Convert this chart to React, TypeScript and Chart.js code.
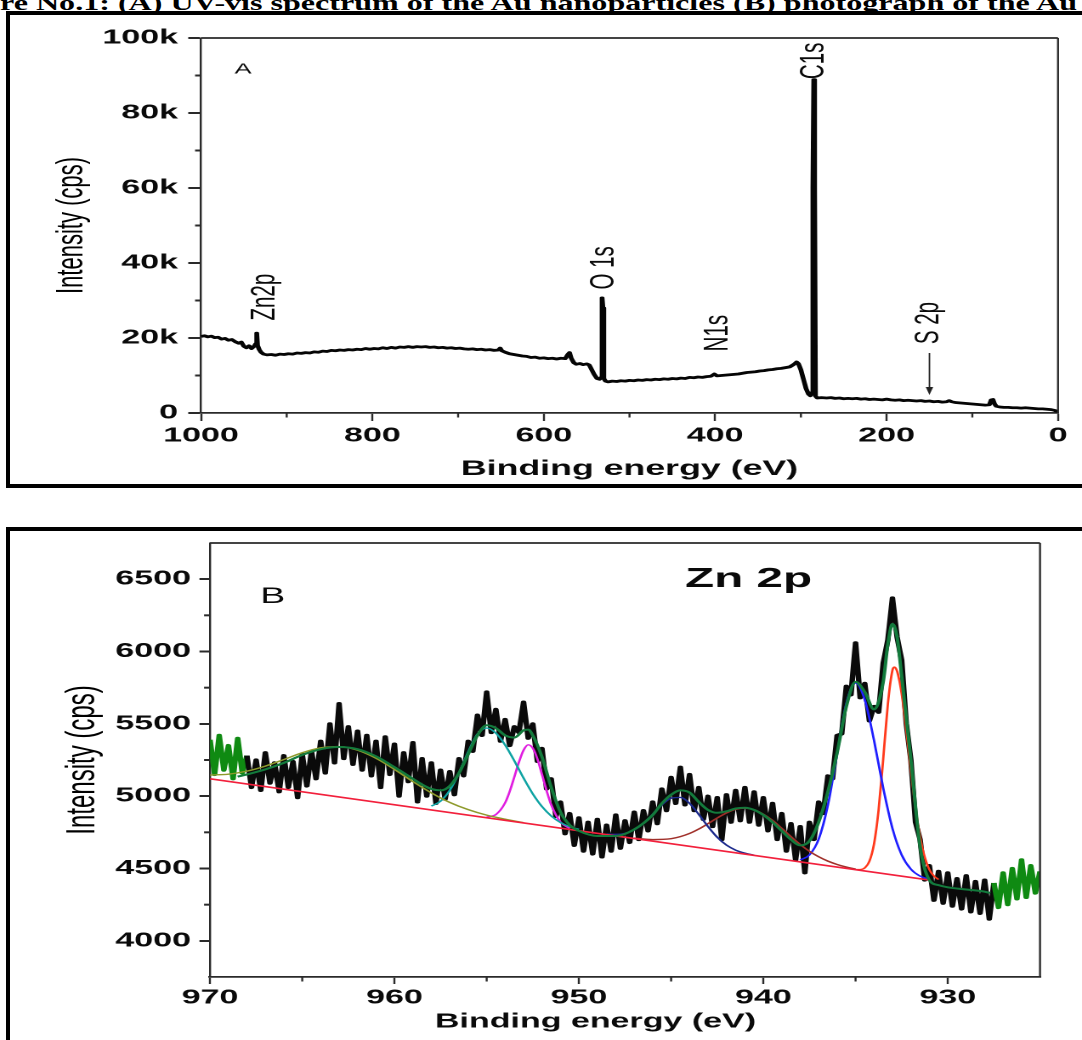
import React, { useEffect, useLayoutEffect, useRef } from 'react';
import { Chart, registerables } from 'chart.js';
Chart.register(...registerables);

const STRETCH = 1.7;
const FONT = '"Liberation Sans", Arial, Helvetica, sans-serif';
const TITLE_TEXT = 're No.1: (A) UV-vis spectrum of the Au nanoparticles (B) photograph of the Au';
const TITLE_WIDTH = 1077;

// ---------- Panel A : survey spectrum (intensity in k cps) ----------
const A_BE = [1000,996,992,988,984,980,976,972,968,964,960,956,953,950,947,944,941,938,936,935,934,932,930,927,923,918,913,908,903,898,893,888,883,878,873,868,863,858,853,848,843,838,833,828,823,818,813,808,803,798,793,788,783,778,773,768,763,758,753,748,743,738,733,728,723,718,713,708,703,698,693,688,683,678,673,668,663,658,653,651,649,645,640,635,630,625,620,615,610,605,600,595,590,585,580,575,572,570,568,565,562,558,554,550,547,544,541,538,535,533,532,531,530,528,525,520,515,510,505,500,495,490,485,480,475,470,465,460,455,450,445,440,435,430,425,420,415,410,405,401,398,393,388,383,378,373,368,363,358,353,348,343,338,333,328,323,318,313,308,305,303,300,297,294,291,289,287,286,285,284,283,281,276,270,265,260,255,250,245,240,235,230,225,220,215,210,205,200,195,190,185,180,175,170,165,160,155,150,145,140,135,130,127,124,120,115,110,105,100,95,90,85,80,78,76,74,72,68,63,58,53,48,43,38,33,28,23,18,13,8,4,2,0];
const A_INTENSITY = [20.4,20.6,20.3,20.5,20.1,20.2,19.7,19.9,19.4,19.6,19.0,18.6,18.9,17.8,17.4,17.9,17.2,17.8,18.5,21.3,18.0,16.9,16.2,15.7,15.5,15.6,15.4,15.7,15.6,15.8,15.7,16.0,15.9,16.1,16.0,16.3,16.2,16.5,16.4,16.7,16.6,16.8,16.7,16.9,16.8,17.0,16.9,17.2,17.0,17.2,17.1,17.4,17.2,17.5,17.3,17.6,17.5,17.7,17.5,17.7,17.6,17.7,17.5,17.6,17.4,17.5,17.3,17.4,17.2,17.3,17.1,17.0,17.1,16.9,17.0,16.8,16.9,16.7,16.8,17.3,16.6,16.2,15.8,15.6,15.4,15.2,15.1,14.8,14.9,14.6,14.7,14.5,14.6,14.4,14.6,14.5,15.6,16.1,14.6,13.4,13.0,13.2,12.9,13.1,12.8,11.5,10.2,9.2,9.0,9.5,30.7,28.0,9.2,8.5,8.3,8.5,8.4,8.6,8.5,8.7,8.6,8.8,8.7,8.9,8.8,9.0,8.9,9.1,9.0,9.2,9.1,9.3,9.2,9.5,9.4,9.6,9.5,9.7,9.8,10.4,9.9,10.0,10.1,10.2,10.3,10.4,10.6,10.8,10.9,11.0,11.2,11.3,11.5,11.6,11.8,11.9,12.1,12.3,13.0,13.6,13.2,11.5,9.0,6.5,5.0,4.6,5.5,60,88.9,60,4.5,4.0,4.1,4.0,4.1,3.9,4.0,3.8,3.9,3.8,3.9,3.7,3.8,3.6,3.7,3.6,3.5,3.7,3.5,3.4,3.5,3.3,3.4,3.3,3.2,3.3,3.1,3.2,3.0,3.1,2.9,3.0,3.3,3.0,2.8,2.7,2.6,2.5,2.4,2.3,2.2,2.1,2.2,3.5,3.6,2.4,1.8,1.6,1.5,1.5,1.4,1.4,1.3,1.4,1.3,1.2,1.1,1.1,1.0,0.9,0.7,0.5,0.4];
const A_X_TICKS = [0, 200, 400, 600, 800, 1000];
const A_Y_TICKS = [0, 20, 40, 60, 80, 100];
const A_X_MINOR = [100, 300, 500, 700, 900];
const A_Y_MINOR = [10, 30, 50, 70, 90];
const A_LABELS = [
  { text: 'A', x: 951, y: 91.7, size: 15, weight: 'normal', rot: 0 },
  { text: 'Zn2p', x: 925, y: 30.9, size: 20.5, weight: 'normal', rot: -90 },
  { text: 'O 1s', x: 530, y: 38.7, size: 20.5, weight: 'normal', rot: -90 },
  { text: 'C1s', x: 284.7, y: 93.9, size: 20.5, weight: 'normal', rot: -90 },
  { text: 'N1s', x: 397, y: 21.3, size: 20.5, weight: 'normal', rot: -90 },
  { text: 'S 2p', x: 150.5, y: 24, size: 20.5, weight: 'normal', rot: -90 },
];
const A_ARROWS = [{ x: 150, from: 16, to: 4.8 }];

// ---------- Panel B : Zn 2p high resolution ----------
const B_START = 970;
const B_STEP = 0.25;
const B_GREEN_LEFT_END = 8;
const B_GREEN_RIGHT_START = 170;
const B_RAW = [5390,5150,5420,5180,5350,5120,5400,5160,
5280,5060,5250,5040,5300,5090,5230,5030,
5280,5060,5240,4990,5290,5070,5310,5120,
5380,5160,5500,5230,5640,5260,5480,5220,
5450,5180,5420,5140,5380,5060,5410,5150,
5360,5000,5300,5100,5370,4960,5260,5000,
5230,4950,5180,4980,5170,5010,5260,5140,
5380,5310,5560,5420,5720,5440,5600,5380,
5530,5350,5480,5440,5650,5400,5500,5240,
5330,5050,5120,4860,4960,4740,4880,4660,
4850,4620,4820,4600,4840,4580,4800,4620,
4870,4640,4830,4680,4890,4700,4900,4760,
4960,4810,5050,4900,5130,4950,5200,4940,
5150,4900,5060,4840,5000,4790,4990,4700,
5010,4820,5040,4830,5060,4820,5030,4800,
4990,4760,4950,4700,4880,4620,4810,4560,
4790,4470,4820,4700,4960,4880,5140,5120,
5420,5430,5760,5700,6060,5680,5780,5520,
5620,5580,5920,6080,6370,6100,5940,5500,
5250,4820,4700,4420,4520,4280,4480,4260,
4470,4240,4430,4220,4450,4200,4410,4190,
4420,4150,4400,4230,4470,4250,4500,4290,
4560,4300,4520,4330,4480];

const ENV_BE = [968.5,968,967,966,965,964,963,962,961,960,959,958.5,958,957.5,957,956.5,956,955.5,955,954.5,954,953.5,953,952.75,952.5,952,951.5,951,950.5,950,949,948,947,946,945.5,945,944.5,944,943.5,943,942.5,942,941.5,941,940.5,940,939.5,939,938.5,938,937.5,937,936.5,936,935.5,935,934.5,934,933.5,933.25,933,932.75,932.5,932,931.5,931,930.5,930,929,928,927.7];
const ENV_VAL = [5135,5150,5185,5230,5285,5325,5340,5325,5275,5200,5120,5080,5050,5040,5070,5160,5290,5420,5490,5470,5420,5405,5455,5460,5420,5270,5060,4890,4800,4760,4725,4725,4770,4870,4950,5010,5040,5025,4960,4905,4885,4895,4915,4920,4905,4870,4820,4760,4700,4660,4690,4820,5030,5300,5620,5790,5720,5600,5790,6050,6190,6100,5830,5250,4650,4420,4385,4370,4355,4340,4330];
const BASE_BE = [970, 931];
const BASE_VAL = [5120, 4420];
const OLIVE_BE = [970,969,968,967,966,965,964,963,962,961,960,959,958,957,956,955,954,953];
const OLIVE_VAL = [5146,5152,5173,5208,5253,5300,5334,5343,5318,5262,5185,5101,5023,4957,4907,4869,4841,4817];
const TEAL_BE = [958,957.5,957,956.5,956,955.5,955,954.5,954,953.5,953,952.5,952,951.5,951,950.5,950];
const TEAL_VAL = [4931,4966,5041,5161,5306,5429,5471,5436,5354,5244,5125,5016,4928,4863,4818,4789,4771];
const MAGENTA_BE = [955,954.5,954,953.75,953.5,953.25,953,952.75,952.5,952.25,952,951.75,951.5,951,950.5];
const MAGENTA_VAL = [4856,4873,4954,5033,5133,5236,5318,5355,5332,5257,5150,5037,4940,4821,4777];
const NAVY_BE = [948.5,948,947.5,947,946.5,946,945.5,945,944.5,944,943.5,943,942.5,942,941.5,941,940.5];
const NAVY_VAL = [4738,4736,4743,4767,4811,4874,4940,4986,4991,4950,4874,4790,4716,4662,4627,4606,4592];
const BROWN_BE = [947,946,945,944.5,944,943.5,943,942.5,942,941.5,941,940.5,940,939.5,939,938.5,938,937.5,937,936.5,936,935.5,935];
const BROWN_VAL = [4710,4700,4706,4720,4742,4773,4810,4849,4884,4909,4917,4906,4875,4832,4777,4720,4666,4619,4581,4551,4528,4510,4496];
const BLUE_BE = [938,937.5,937,936.5,936,935.5,935,934.5,934,933.5,933,932.5,932,931.5,931];
const BLUE_VAL = [4560,4594,4703,4938,5293,5639,5782,5666,5386,5056,4777,4594,4495,4447,4425];
const RED_BE = [935,934.75,934.5,934.25,934,933.75,933.5,933.25,933,932.9,932.75,932.5,932.25,932,931.75,931.5,931.25,931,930.75,930.5];
const RED_VAL = [4493,4493,4504,4550,4669,4906,5258,5636,5871,5892,5864,5708,5460,5177,4919,4717,4579,4493,4448,4424];

const B_X_TICKS = [930, 940, 950, 960, 970];
const B_Y_TICKS = [4000, 4500, 5000, 5500, 6000, 6500];
const B_X_MINOR = [935, 945, 955, 965];
const B_Y_MINOR = [4250, 4750, 5250, 5750, 6250];
const B_LABELS = [
  { text: 'B', x: 966.6, y: 6376, size: 22, weight: 'normal', rot: 0 },
  { text: 'Zn 2p', x: 940.8, y: 6500, size: 28, weight: 'bold', rot: 0 },
  { text: 'Binding energy (eV)', x: 949.1, y: 3440, size: 20, weight: 'bold', rot: 0 },
];

const AXIS_COLOR = '#2a2a2a';
const TEXT_COLOR = '#0a0a0a';

const zip = (xs: number[], ys: number[]) => xs.map((x, i) => ({ x, y: ys[i] }));

function makeMarks(cfg: any) {
  return {
    id: 'marks',
    afterDraw(chart: any) {
      const { ctx, chartArea: ca, scales } = chart;
      const xs = scales.x, ys = scales.y;
      ctx.save();
      ctx.strokeStyle = AXIS_COLOR;
      ctx.lineWidth = 1.8;
      ctx.beginPath(); ctx.moveTo(ca.left, ca.top); ctx.lineTo(ca.right, ca.top); ctx.stroke();
      ctx.lineWidth = 1.2;
      ctx.beginPath(); ctx.moveTo(ca.right, ca.top); ctx.lineTo(ca.right, ca.bottom); ctx.stroke();
      ctx.lineWidth = 1.2;
      for (const v of cfg.minorX) {
        const px = xs.getPixelForValue(v);
        ctx.beginPath(); ctx.moveTo(px, ca.bottom); ctx.lineTo(px, ca.bottom + cfg.minorLenX); ctx.stroke();
      }
      ctx.lineWidth = 2;
      for (const v of cfg.minorY) {
        const py = ys.getPixelForValue(v);
        ctx.beginPath(); ctx.moveTo(ca.left, py); ctx.lineTo(ca.left - cfg.minorLenY, py); ctx.stroke();
      }
      for (const t of cfg.labels) {
        const px = xs.getPixelForValue(t.x), py = ys.getPixelForValue(t.y);
        ctx.save();
        ctx.translate(px, py);
        if (t.rot) ctx.rotate((t.rot * Math.PI) / 180);
        ctx.font = `${t.weight} ${t.size}px ${FONT}`;
        ctx.fillStyle = TEXT_COLOR;
        ctx.textAlign = 'center';
        ctx.textBaseline = 'middle';
        ctx.fillText(t.text, 0, 0);
        ctx.restore();
      }
      for (const a of cfg.arrows || []) {
        const px = xs.getPixelForValue(a.x);
        const y0 = ys.getPixelForValue(a.from), y1 = ys.getPixelForValue(a.to);
        ctx.strokeStyle = '#222';
        ctx.fillStyle = '#222';
        ctx.lineWidth = 0.9;
        ctx.beginPath(); ctx.moveTo(px, y0); ctx.lineTo(px, y1 - 6); ctx.stroke();
        ctx.beginPath(); ctx.moveTo(px - 2.2, y1 - 8); ctx.lineTo(px + 2.2, y1 - 8); ctx.lineTo(px, y1); ctx.closePath(); ctx.fill();
      }
      ctx.restore();
    },
  };
}

function axisCommon(tickLen: number, tickWidth: number, borderWidth: number, pad: number, cb: any) {
  return {
    ticks: { font: { family: FONT, size: 20, weight: 'bold' }, color: TEXT_COLOR, padding: pad, maxRotation: 0, autoSkip: false, callback: cb },
    grid: { display: true, drawOnChartArea: false, drawTicks: true, tickLength: tickLen, tickWidth, tickColor: AXIS_COLOR },
    border: { display: true, color: AXIS_COLOR, width: borderWidth },
  };
}

const plainLabel = (v: any) => String(v);
const kLabel = (v: any) => (v === 0 ? '0' : `${v}k`);

function buildA() {
  return {
    type: 'line',
    data: {
      datasets: [{
        data: zip(A_BE, A_INTENSITY),
        borderColor: '#050505', borderWidth: 2.8, pointRadius: 0, tension: 0, borderJoinStyle: 'round',
      }],
    },
    options: {
      animation: false, responsive: false, devicePixelRatio: 2, events: [],
      layout: { padding: { left: 0, right: 14.12, top: 22, bottom: 0 } },
      plugins: { legend: { display: false }, tooltip: { enabled: false } },
      scales: {
        x: {
          type: 'linear', reverse: true, min: 0, max: 1000,
          afterBuildTicks: (s: any) => { s.ticks = A_X_TICKS.map((v) => ({ value: v })); },
          afterFit: (s: any) => { s.height = 69; },
          ...axisCommon(8, 1.2, 1.8, 3, plainLabel),
          title: { display: true, text: 'Binding energy (eV)', color: TEXT_COLOR, font: { family: FONT, size: 21, weight: 'bold' }, padding: { top: 0, bottom: 0 } },
        },
        y: {
          type: 'linear', min: 0, max: 100,
          afterBuildTicks: (s: any) => { s.ticks = A_Y_TICKS.map((v) => ({ value: v })); },
          afterFit: (s: any) => { s.width = 111.76; },
          ...axisCommon(7.5, 2, 1.2, 6, kLabel),
          title: { display: true, text: 'Intensity (cps)', color: '#000', font: { family: FONT, size: 22, weight: 'normal' }, padding: { top: 22.7, bottom: 0 } },
        },
      },
    },
    plugins: [makeMarks({ minorX: A_X_MINOR, minorY: A_Y_MINOR, minorLenX: 4.5, minorLenY: 3.5, labels: A_LABELS, arrows: A_ARROWS })],
  };
}

function curve(be: number[], val: number[], color: string, width: number, order: number) {
  return {
    data: zip(be, val), borderColor: color, borderWidth: width, pointRadius: 0,
    cubicInterpolationMode: 'monotone', order,
  };
}

function buildB() {
  const raw = B_RAW.map((v, i) => ({ x: B_START - i * B_STEP, y: v }));
  return {
    type: 'line',
    data: {
      datasets: [
        {
          data: raw, borderColor: '#0a0a0a', borderWidth: 3.2, pointRadius: 0, tension: 0, order: 10,
          borderJoinStyle: 'round',
          segment: {
            borderColor: (c: any) => (c.p0DataIndex < B_GREEN_LEFT_END || c.p0DataIndex >= B_GREEN_RIGHT_START ? '#0f8a12' : '#0a0a0a'),
          },
        },
        curve(OLIVE_BE, OLIVE_VAL, '#8e9a2c', 1.4, 6),
        curve(TEAL_BE, TEAL_VAL, '#0fa3a3', 1.4, 6),
        curve(MAGENTA_BE, MAGENTA_VAL, '#e01ee0', 1.4, 6),
        curve(NAVY_BE, NAVY_VAL, '#1c2a8c', 1.4, 6),
        curve(BROWN_BE, BROWN_VAL, '#a0302a', 1.4, 6),
        curve(BLUE_BE, BLUE_VAL, '#1f1fff', 1.4, 6),
        curve(RED_BE, RED_VAL, '#ff3a1c', 1.4, 6),
        { data: zip(BASE_BE, BASE_VAL), borderColor: '#f2203c', borderWidth: 1.6, pointRadius: 0, order: 4 },
        curve(ENV_BE, ENV_VAL, '#137a3c', 2, 1),
      ],
    },
    options: {
      animation: false, responsive: false, devicePixelRatio: 2, events: [],
      layout: { padding: { left: 0, right: 24.71, top: 23, bottom: 0 } },
      plugins: { legend: { display: false }, tooltip: { enabled: false } },
      scales: {
        x: {
          type: 'linear', reverse: true, min: 925, max: 970,
          afterBuildTicks: (s: any) => { s.ticks = B_X_TICKS.map((v) => ({ value: v })); },
          afterFit: (s: any) => { s.height = 63; },
          ...axisCommon(7, 1.2, 1.8, 2, plainLabel),
        },
        y: {
          type: 'linear', min: 3750, max: 6750,
          afterBuildTicks: (s: any) => { s.ticks = B_Y_TICKS.map((v) => ({ value: v })); },
          afterFit: (s: any) => { s.width = 117.06; },
          ...axisCommon(6.2, 2, 1.2, 5, plainLabel),
          title: { display: true, text: 'Intensity (cps)', color: '#000', font: { family: FONT, size: 24, weight: 'normal' }, padding: { top: 28, bottom: 0 } },
        },
      },
    },
    plugins: [makeMarks({ minorX: B_X_MINOR, minorY: B_Y_MINOR, minorLenX: 4.5, minorLenY: 3.5, labels: B_LABELS, arrows: [] })],
  };
}

function StretchedChart({ left, top, width, height, build }: any) {
  const ref = useRef<HTMLCanvasElement>(null);
  useEffect(() => {
    const chart = new Chart(ref.current as any, build() as any);
    return () => chart.destroy();
  }, []);
  return (
    <div style={{ position: 'absolute', left, top, width, height, transform: `scaleX(${STRETCH})`, transformOrigin: '0 0' }}>
      <canvas ref={ref} width={width} height={height} style={{ width, height, display: 'block' }} />
    </div>
  );
}

function TitleLine() {
  const ref = useRef<HTMLSpanElement>(null);
  useLayoutEffect(() => {
    const fit = () => {
      const el = ref.current;
      if (!el) return;
      const w = el.offsetWidth;
      if (w > 0) el.style.transform = `scaleX(${TITLE_WIDTH / w})`;
    };
    fit();
    if ((document as any).fonts && (document as any).fonts.ready) (document as any).fonts.ready.then(fit);
  }, []);
  return (
    <span
      ref={ref}
      style={{
        position: 'absolute', left: 0, top: -7, whiteSpace: 'nowrap', color: '#000',
        font: 'bold 21px "Liberation Serif", "Times New Roman", serif', lineHeight: '21px', transformOrigin: '0 0',
      }}
    >
      {TITLE_TEXT}
    </span>
  );
}

export default function App() {
  return (
    <div style={{ position: 'fixed', left: 0, top: 0, width: 1082, height: 1040, overflow: 'hidden', background: '#fff' }}>
      <TitleLine />
      <div style={{ position: 'absolute', left: 6, top: 11, width: 1200, height: 477, border: '4px solid #000', boxSizing: 'border-box' }} />
      <div style={{ position: 'absolute', left: 6, top: 527, width: 1200, height: 700, border: '4px solid #000', boxSizing: 'border-box' }} />
      <StretchedChart left={11} top={16} width={630} height={466} build={buildA} />
      <StretchedChart left={11} top={520} width={630} height={520} build={buildB} />
    </div>
  );
}
